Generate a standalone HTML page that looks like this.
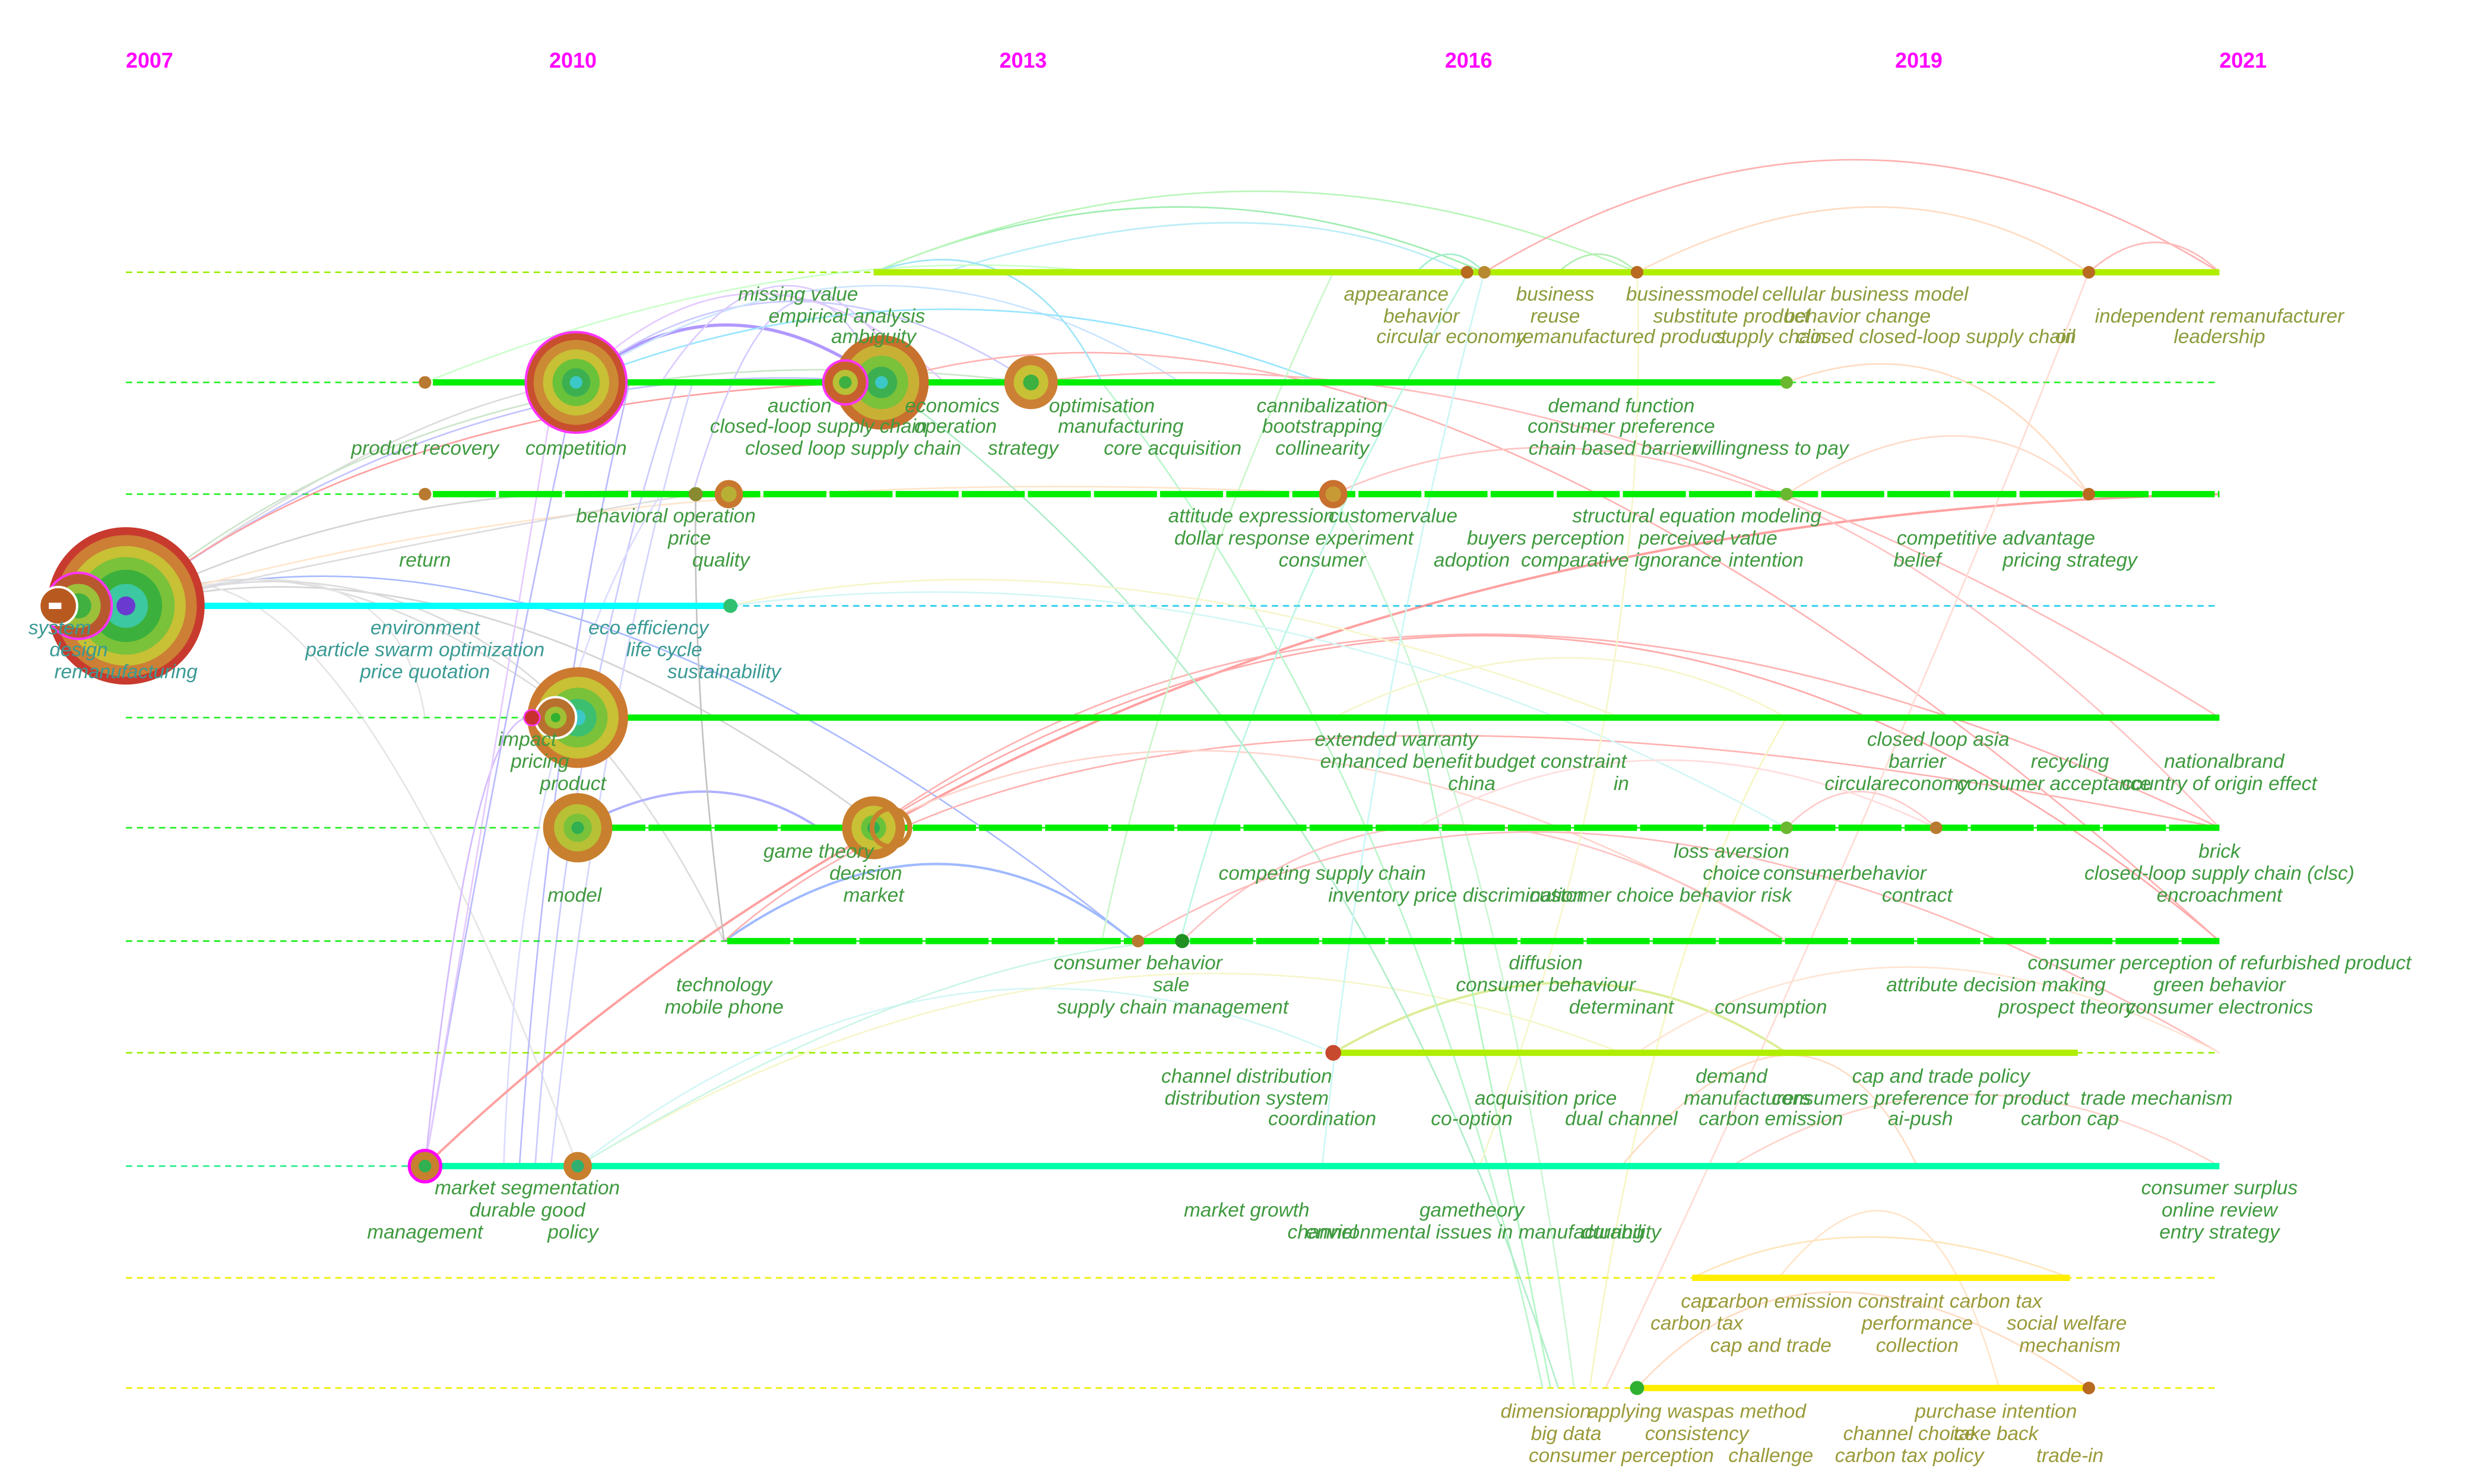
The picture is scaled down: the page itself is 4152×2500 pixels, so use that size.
<!DOCTYPE html>
<html><head><meta charset="utf-8"><style>
html,body{margin:0;padding:0;background:#fff;width:4152px;height:2500px;overflow:hidden}
svg{display:block}
text{font-family:"Liberation Sans",sans-serif;font-style:italic;font-size:12.6px;text-anchor:middle}
.g{fill:#3f9a3f}.o{fill:#8c9c3c}.t{fill:#3a9a94}.y{fill:#9a9a3a}
.yr{font-style:normal;font-weight:bold;font-size:13.5px;fill:#ff00ff}
</style></head><body>
<svg width="4152" height="2500" viewBox="0 0 1566 943" preserveAspectRatio="none">
<text class="yr" x="95" y="43">2007</text>
<text class="yr" x="364" y="43">2010</text>
<text class="yr" x="650" y="43">2013</text>
<text class="yr" x="933" y="43">2016</text>
<text class="yr" x="1219" y="43">2019</text>
<text class="yr" x="1425" y="43">2021</text>
<g stroke-width="1" stroke-dasharray="4,3" fill="none">
<line x1="80" y1="173" x2="1410" y2="173" stroke="#99ee00"/>
<line x1="80" y1="243" x2="1410" y2="243" stroke="#22ee22"/>
<line x1="80" y1="314" x2="1410" y2="314" stroke="#22ee22"/>
<line x1="80" y1="385" x2="1410" y2="385" stroke="#22ccee"/>
<line x1="80" y1="456" x2="1410" y2="456" stroke="#22ee22"/>
<line x1="80" y1="526" x2="1410" y2="526" stroke="#22ee22"/>
<line x1="80" y1="598" x2="1410" y2="598" stroke="#22ee22"/>
<line x1="80" y1="669" x2="1410" y2="669" stroke="#99ee00"/>
<line x1="80" y1="741" x2="1410" y2="741" stroke="#22ee88"/>
<line x1="80" y1="812" x2="1410" y2="812" stroke="#eeee00"/>
<line x1="80" y1="882" x2="1410" y2="882" stroke="#eeee00"/>
</g>
<g fill="none" stroke-width="1" opacity="0.5">
<path d="M80 385 Q250 260 366 243" stroke="#bbb"/>
<path d="M80 385 Q300 220 560 243" stroke="#88f"/>
<path d="M80 385 Q300 200 655 243" stroke="#9c9"/>
<path d="M80 385 Q250 300 463 314" stroke="#aaa"/>
<path d="M80 385 Q300 330 560 526" stroke="#aaa"/>
<path d="M80 385 Q200 330 367 456" stroke="#bbb"/>
<path d="M80 385 Q250 250 560 243" stroke="#f44"/>
<path d="M80 385 Q350 300 720 598" stroke="#57f"/>
<path d="M80 385 Q400 290 847 314" stroke="#fc9"/>
<path d="M80 385 Q200 300 367 741" stroke="#ccc"/>
<path d="M80 385 Q250 330 270 456" stroke="#ccc"/>
<path d="M80 385 Q280 340 442 314" stroke="#bbb"/>
<path d="M80 385 Q320 310 460 598" stroke="#bbb"/>
<path d="M366 243 Q460 170 560 243" stroke="#63f" stroke-width="2"/>
<path d="M366 243 Q500 140 655 243" stroke="#99f"/>
<path d="M366 243 Q560 120 750 243" stroke="#9cf"/>
<path d="M366 243 Q600 150 840 243" stroke="#3cf"/>
<path d="M366 243 Q480 130 600 243" stroke="#c9f"/>
<path d="M420 243 Q500 120 580 243" stroke="#b9f"/>
<path d="M440 314 Q500 110 560 243" stroke="#a9f"/>
<path d="M270 741 Q320 450 366 243" stroke="#77f"/>
<path d="M270 741 Q300 450 338 456" stroke="#a7f"/>
<path d="M270 741 Q310 500 353 243" stroke="#c9f"/>
<path d="M330 741 Q350 450 400 243" stroke="#77f"/>
<path d="M340 741 Q360 450 430 243" stroke="#99f"/>
<path d="M320 741 Q330 450 420 314" stroke="#bbf"/>
<path d="M350 741 Q380 450 440 243" stroke="#aaf"/>
<path d="M270 741 Q700 330 1410 314" stroke="#f44" stroke-width="1.5"/>
<path d="M367 741 Q600 560 847 669" stroke="#aee"/>
<path d="M367 741 Q700 540 1030 669" stroke="#ee9"/>
<path d="M367 741 Q600 600 760 598" stroke="#9ec"/>
<path d="M367 526 Q450 480 520 526" stroke="#66f" stroke-width="1.5"/>
<path d="M460 598 Q600 500 720 598" stroke="#47f" stroke-width="1.5"/>
<path d="M460 598 Q700 380 1410 526" stroke="#f66"/>
<path d="M555 526 Q900 280 1410 526" stroke="#f66"/>
<path d="M555 526 Q1000 250 1410 598" stroke="#f55"/>
<path d="M555 526 Q800 400 1135 598" stroke="#fa9"/>
<path d="M555 173 Q750 90 943 173" stroke="#4d6"/>
<path d="M555 173 Q800 70 1040 173" stroke="#7e7"/>
<path d="M600 173 Q800 110 930 173" stroke="#7de"/>
<path d="M943 173 Q1180 30 1410 173" stroke="#f66"/>
<path d="M1327 173 Q1370 135 1410 173" stroke="#f77"/>
<path d="M1040 173 Q1200 90 1327 173" stroke="#fb8"/>
<path d="M900 173 Q920 150 943 173" stroke="#4d9"/>
<path d="M990 173 Q1015 150 1040 173" stroke="#6d6"/>
<path d="M560 243 Q900 140 1410 598" stroke="#f66"/>
<path d="M655 243 Q1000 200 1410 456" stroke="#f77"/>
<path d="M847 314 Q1100 200 1410 526" stroke="#f88"/>
<path d="M847 669 Q1000 580 1135 669" stroke="#bd3" stroke-width="1.5"/>
<path d="M1040 882 Q1150 760 1327 882" stroke="#fb8"/>
<path d="M1075 812 Q1180 760 1315 812" stroke="#fc7"/>
<path d="M1130 812 Q1220 700 1270 882" stroke="#fc9"/>
<path d="M980 882 Q900 500 700 243" stroke="#7e9"/>
<path d="M990 882 Q850 450 560 243" stroke="#6d9"/>
<path d="M1000 882 Q950 500 847 314" stroke="#9ea"/>
<path d="M1020 882 Q1200 500 1327 173" stroke="#fba"/>
<path d="M985 882 Q930 600 900 456" stroke="#6e8"/>
<path d="M1010 882 Q1050 600 1135 456" stroke="#ee8"/>
<path d="M1135 314 Q1250 240 1327 314" stroke="#fb9"/>
<path d="M1135 526 Q1180 480 1230 526" stroke="#f99"/>
<path d="M1135 243 Q1250 200 1327 314" stroke="#fb8"/>
<path d="M463 385 Q700 330 1030 456" stroke="#ee9"/>
<path d="M463 385 Q800 340 1135 526" stroke="#aee"/>
<path d="M751 598 Q900 450 1135 598" stroke="#f88"/>
<path d="M723 598 Q1000 430 1410 669" stroke="#f77"/>
<path d="M270 243 Q500 150 700 173" stroke="#9f9"/>
<path d="M555 173 Q650 140 700 243" stroke="#4ce"/>
<path d="M700 598 Q740 400 847 173" stroke="#9e9"/>
<path d="M750 598 Q800 400 933 173" stroke="#7ec"/>
<path d="M840 741 Q870 450 943 173" stroke="#9ee"/>
<path d="M940 741 Q1050 450 1040 173" stroke="#ee9"/>
<path d="M1030 741 Q1150 600 1218 741" stroke="#fb8"/>
<path d="M1100 741 Q1250 650 1410 741" stroke="#fa9"/>
<path d="M460 598 Q440 450 442 314" stroke="#888"/>
<path d="M847 456 Q1000 380 1135 456" stroke="#ee9"/>
<path d="M900 526 Q1050 440 1230 526" stroke="#fbb"/>
<path d="M1040 669 Q1200 560 1410 669" stroke="#fca"/>
</g>
<g stroke-width="4" fill="none">
<line x1="555" y1="173" x2="1410" y2="173" stroke="#b0ee00"/>
<line x1="275" y1="243" x2="1135" y2="243" stroke="#00ee00"/>
<line x1="275" y1="314" x2="1410" y2="314" stroke="#00ee00" stroke-dasharray="40,2"/>
<line x1="80" y1="385" x2="465" y2="385" stroke="#00ffff"/>
<line x1="355" y1="456" x2="1410" y2="456" stroke="#00ee00"/>
<line x1="370" y1="526" x2="1410" y2="526" stroke="#00ee00" stroke-dasharray="40,2"/>
<line x1="462" y1="598" x2="1410" y2="598" stroke="#00ee00" stroke-dasharray="40,2"/>
<line x1="845" y1="669" x2="1320" y2="669" stroke="#b0ee00"/>
<line x1="270" y1="741" x2="1410" y2="741" stroke="#00ffaa"/>
<line x1="1075" y1="812" x2="1315" y2="812" stroke="#ffee00"/>
<line x1="1040" y1="882" x2="1325" y2="882" stroke="#ffee00"/>
</g>
<g>
<circle cx="80" cy="385" r="50" fill="#c83a2e"/><circle cx="80" cy="385" r="45" fill="#cc7f35"/><circle cx="80" cy="385" r="38" fill="#c8c035"/><circle cx="80" cy="385" r="31" fill="#7ac23a"/><circle cx="80" cy="385" r="23" fill="#3cb03c"/><circle cx="80" cy="385" r="14" fill="#3cc8a0"/><circle cx="80" cy="385" r="6" fill="#6a3ad0"/>
<circle cx="50" cy="385" r="21" fill="#b8582e" stroke="#ff33ff" stroke-width="1.5"/><circle cx="50" cy="385" r="14" fill="#9cc03a"/><circle cx="50" cy="385" r="8" fill="#40b040"/>
<circle cx="37" cy="385" r="12" fill="#b85a20" stroke="#fff" stroke-width="1.5"/><rect x="31" y="383" width="8" height="4" fill="#fff"/>
<circle cx="366" cy="243" r="32" fill="#c8502e" stroke="#ff33ff" stroke-width="1.5"/><circle cx="366" cy="243" r="27" fill="#cc8a35"/><circle cx="366" cy="243" r="21" fill="#c8c035"/><circle cx="366" cy="243" r="15" fill="#6ac23a"/><circle cx="366" cy="243" r="9" fill="#3cb050"/><circle cx="366" cy="243" r="4" fill="#3cc8c8"/>
<circle cx="560" cy="243" r="30" fill="#c8702e"/><circle cx="560" cy="243" r="24" fill="#c8b035"/><circle cx="560" cy="243" r="17" fill="#7ac23a"/><circle cx="560" cy="243" r="10" fill="#3cb050"/><circle cx="560" cy="243" r="4" fill="#3cc8c8"/>
<circle cx="537" cy="243" r="14" fill="#c8602e" stroke="#ff33ff" stroke-width="1.5"/><circle cx="537" cy="243" r="8" fill="#b8c035"/><circle cx="537" cy="243" r="4" fill="#3cb040"/>
<circle cx="655" cy="243" r="17" fill="#cc8035"/><circle cx="655" cy="243" r="11" fill="#c8c035"/><circle cx="655" cy="243" r="5" fill="#3cb040"/>
<circle cx="270" cy="243" r="4" fill="#b87a30"/><circle cx="1135" cy="243" r="4" fill="#6ab830"/>
<circle cx="932" cy="173" r="4" fill="#b86a20"/><circle cx="943" cy="173" r="4" fill="#b88a30"/><circle cx="1040" cy="173" r="4" fill="#b86a20"/><circle cx="1327" cy="173" r="4" fill="#b86a20"/>
<circle cx="270" cy="314" r="4" fill="#b87a30"/><circle cx="442" cy="314" r="4.5" fill="#8a8a30"/>
<circle cx="463" cy="314" r="9" fill="#c8782e"/><circle cx="463" cy="314" r="5" fill="#b8b035"/>
<circle cx="847" cy="314" r="9" fill="#c8702e"/><circle cx="847" cy="314" r="5" fill="#c89a35"/>
<circle cx="1135" cy="314" r="4" fill="#6ab830"/><circle cx="1327" cy="314" r="4" fill="#b86a20"/>
<circle cx="464" cy="385" r="4.5" fill="#30c070"/>
<circle cx="367" cy="456" r="32" fill="#cc7a30"/><circle cx="367" cy="456" r="26" fill="#c8c035"/><circle cx="367" cy="456" r="19" fill="#7ac23a"/><circle cx="367" cy="456" r="12" fill="#3cc070"/><circle cx="367" cy="456" r="5" fill="#3cc8c8"/>
<circle cx="353" cy="456" r="13" fill="#b8702e" stroke="#fff" stroke-width="1.5"/><circle cx="353" cy="456" r="7" fill="#a0c035"/><circle cx="353" cy="456" r="3" fill="#30b030"/>
<circle cx="338" cy="456" r="5" fill="#c8302e" stroke="#ff33ff" stroke-width="1"/>
<circle cx="367" cy="526" r="22" fill="#c8802e"/><circle cx="367" cy="526" r="15" fill="#b8c035"/><circle cx="367" cy="526" r="9" fill="#7ac23a"/><circle cx="367" cy="526" r="4" fill="#30b050"/>
<circle cx="555" cy="526" r="20" fill="#c8802e"/><circle cx="555" cy="526" r="14" fill="#c8c035"/><circle cx="555" cy="526" r="8" fill="#6ac23a"/><circle cx="555" cy="526" r="4" fill="#30b050"/>
<circle cx="566" cy="526" r="12" fill="none" stroke="#c8802e" stroke-width="3"/>
<circle cx="1135" cy="526" r="4" fill="#6ab830"/><circle cx="1230" cy="526" r="4" fill="#b87a30"/>
<circle cx="723" cy="598" r="4" fill="#b87a30"/><circle cx="751" cy="598" r="4.5" fill="#209020"/>
<circle cx="847" cy="669" r="5" fill="#c84a2e"/>
<circle cx="270" cy="741" r="10" fill="#c8802e" stroke="#ff00ff" stroke-width="2"/><circle cx="270" cy="741" r="4" fill="#30b050"/>
<circle cx="367" cy="741" r="9" fill="#c8802e"/><circle cx="367" cy="741" r="4" fill="#30b070"/>
<circle cx="1040" cy="882" r="4.5" fill="#30b030"/><circle cx="1327" cy="882" r="4" fill="#b86a20"/>
</g>
<g class="o">
<text x="887" y="191">appearance</text><text x="903" y="205">behavior</text><text x="922" y="218">circular economy</text>
<text x="988" y="191">business</text><text x="988" y="205">reuse</text><text x="1030" y="218">remanufactured product</text>
<text x="1075" y="191">businessmodel</text><text x="1185" y="191">cellular business model</text>
<text x="1100" y="205">substitute product</text><text x="1180" y="205">behavior change</text>
<text x="1125" y="218">supply chain</text><text x="1230" y="218">closed closed-loop supply chain</text><text x="1312" y="218">oil</text>
<text x="1410" y="205">independent remanufacturer</text><text x="1410" y="218">leadership</text>
</g>
<g class="g">
<text x="507" y="191">missing value</text><text x="538" y="205">empirical analysis</text><text x="555" y="218">ambiguity</text>
<text x="270" y="289">product recovery</text><text x="366" y="289">competition</text>
<text x="508" y="262">auction</text><text x="520" y="275">closed-loop supply chain</text><text x="542" y="289">closed loop supply chain</text>
<text x="605" y="262">economics</text><text x="607" y="275">operation</text><text x="650" y="289">strategy</text>
<text x="700" y="262">optimisation</text><text x="712" y="275">manufacturing</text><text x="745" y="289">core acquisition</text>
<text x="840" y="262">cannibalization</text><text x="840" y="275">bootstrapping</text><text x="840" y="289">collinearity</text>
<text x="1030" y="262">demand function</text><text x="1030" y="275">consumer preference</text><text x="1025" y="289">chain based barrier</text><text x="1125" y="289">willingness to pay</text>
<text x="423" y="332">behavioral operation</text><text x="438" y="346">price</text><text x="458" y="360">quality</text>
<text x="270" y="360">return</text>
<text x="795" y="332">attitude expression</text><text x="885" y="332">customervalue</text><text x="822" y="346">dollar response experiment</text><text x="840" y="360">consumer</text>
<text x="982" y="346">buyers perception</text><text x="935" y="360">adoption</text>
<text x="1078" y="332">structural equation modeling</text><text x="1085" y="346">perceived value</text><text x="1030" y="360">comparative ignorance</text><text x="1122" y="360">intention</text>
<text x="1268" y="346">competitive advantage</text><text x="1218" y="360">belief</text><text x="1315" y="360">pricing strategy</text>
</g>
<g class="t">
<text x="38" y="403">system</text><text x="50" y="417">design</text><text x="80" y="431">remanufacturing</text>
<text x="270" y="403">environment</text><text x="270" y="417">particle swarm optimization</text><text x="270" y="431">price quotation</text>
<text x="412" y="403">eco efficiency</text><text x="422" y="417">life cycle</text><text x="460" y="431">sustainability</text>
</g>
<g class="g">
<text x="335" y="474">impact</text><text x="343" y="488">pricing</text><text x="364" y="502">product</text>
<text x="887" y="474">extended warranty</text><text x="887" y="488">enhanced benefit</text><text x="985" y="488">budget constraint</text><text x="935" y="502">china</text><text x="1030" y="502">in</text>
<text x="1218" y="474">closed loop</text><text x="1265" y="474">asia</text><text x="1218" y="488">barrier</text><text x="1315" y="488">recycling</text><text x="1413" y="488">nationalbrand</text>
<text x="1205" y="502">circulareconomy</text><text x="1305" y="502">consumer acceptance</text><text x="1410" y="502">country of origin effect</text>
<text x="520" y="545">game theory</text><text x="550" y="559">decision</text><text x="555" y="573">market</text><text x="365" y="573">model</text>
<text x="840" y="559">competing supply chain</text><text x="925" y="573">inventory price discrimination</text><text x="1055" y="573">customer choice behavior risk</text>
<text x="1100" y="545">loss aversion</text><text x="1100" y="559">choice</text><text x="1172" y="559">consumerbehavior</text><text x="1218" y="573">contract</text>
<text x="1410" y="545">brick</text><text x="1410" y="559">closed-loop supply chain (clsc)</text><text x="1410" y="573">encroachment</text>
<text x="460" y="630">technology</text><text x="460" y="644">mobile phone</text>
<text x="723" y="616">consumer behavior</text><text x="744" y="630">sale</text><text x="745" y="644">supply chain management</text>
<text x="982" y="616">diffusion</text><text x="982" y="630">consumer behaviour</text><text x="1030" y="644">determinant</text><text x="1125" y="644">consumption</text>
<text x="1410" y="616">consumer perception of refurbished product</text><text x="1268" y="630">attribute decision making</text><text x="1410" y="630">green behavior</text><text x="1313" y="644">prospect theory</text><text x="1410" y="644">consumer electronics</text>
<text x="792" y="688">channel distribution</text><text x="792" y="702">distribution system</text><text x="840" y="715">coordination</text>
<text x="982" y="702">acquisition price</text><text x="935" y="715">co-option</text><text x="1030" y="715">dual channel</text>
<text x="1100" y="688">demand</text><text x="1233" y="688">cap and trade policy</text><text x="1110" y="702">manufacturers</text><text x="1220" y="702">consumers preference for product</text><text x="1370" y="702">trade mechanism</text>
<text x="1125" y="715">carbon emission</text><text x="1220" y="715">ai-push</text><text x="1315" y="715">carbon cap</text>
<text x="335" y="759">market segmentation</text><text x="335" y="773">durable good</text><text x="364" y="787">policy</text><text x="270" y="787">management</text>
<text x="792" y="773">market growth</text><text x="935" y="773">gametheory</text><text x="840" y="787">channel</text><text x="937" y="787">environmental issues in manufacturing</text><text x="1030" y="787">durability</text>
<text x="1410" y="759">consumer surplus</text><text x="1410" y="773">online review</text><text x="1410" y="787">entry strategy</text>
</g>
<g class="y">
<text x="1078" y="831">cap</text><text x="1160" y="831">carbon emission constraint</text><text x="1268" y="831">carbon tax</text>
<text x="1078" y="845">carbon tax</text><text x="1218" y="845">performance</text><text x="1313" y="845">social welfare</text>
<text x="1125" y="859">cap and trade</text><text x="1218" y="859">collection</text><text x="1315" y="859">mechanism</text>
<text x="982" y="901">dimension</text><text x="1078" y="901">applying waspas method</text><text x="1268" y="901">purchase intention</text>
<text x="995" y="915">big data</text><text x="1078" y="915">consistency</text><text x="1213" y="915">channel choice</text><text x="1268" y="915">take back</text>
<text x="1030" y="929">consumer perception</text><text x="1125" y="929">challenge</text><text x="1213" y="929">carbon tax policy</text><text x="1315" y="929">trade-in</text>
</g>
</svg>
</body></html>
